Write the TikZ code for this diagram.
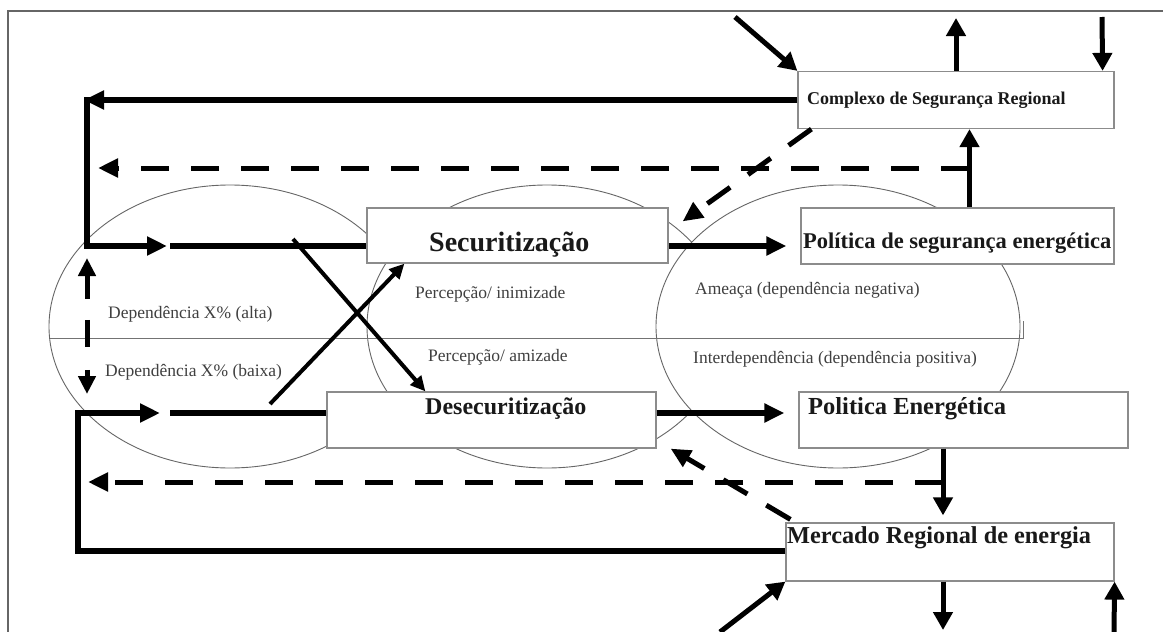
\documentclass[tikz,border=0pt]{standalone}
\usepackage{fontspec}
\setmainfont{Liberation Serif}
\usetikzlibrary{arrows.meta}

\begin{document}
\begin{tikzpicture}[x=1pt,y=-1pt]
    % Definição de estilos
    \tikzstyle{caixa}=[draw=black!45, line width=1.2pt, fill=white, inner sep=0pt]
    \tikzstyle{esfera}=[draw=black!60, line width=0.9pt, fill=white]
    \tikzstyle{rotulo}=[font=\fontsize{17.5}{19}\selectfont, text=black!75, inner sep=0pt, anchor=west]
    \tikzstyle{titulo}=[text=black!90, inner sep=0pt, anchor=west]
    \tikzstyle{fluxo}=[line width=6pt]
    \tikzstyle{seta}=[line width=6pt, -{Triangle[length=20pt,width=18pt]}]
    \tikzstyle{setafina}=[line width=5pt, -{Triangle[length=18pt,width=19pt]}]
    \tikzstyle{cruz}=[line width=4pt, -{Triangle[length=15pt,width=14pt]}]
    \tikzstyle{tracejado}=[line width=5pt, dash pattern=on 28pt off 22pt, -{Triangle[length=20pt,width=18pt]}]

    \useasboundingbox (0,0) rectangle (1163,632);

    % Moldura
    \draw[black!60, line width=1.8pt] (8,632) -- (8,11) -- (1163,11);

    % Elipses (alta/baixa, percepção, ameaça/interdependência)
    \draw[esfera] (230,326.5) ellipse [x radius=181, y radius=141.5];
    \draw[esfera] (547,326.5) ellipse [x radius=180, y radius=141.5];
    \draw[esfera] (838,326.5) ellipse [x radius=182, y radius=141.5];
    \draw[black!55, line width=1pt] (50,338) -- (1023,338) -- (1023,321);

    % Rótulos dentro das elipses
    \node[rotulo] (dep_alta) at (108,314) {Dependência X\% (alta)};
    \node[rotulo] (dep_baixa) at (105,372) {Dependência X\% (baixa)};
    \node[rotulo] (perc_inim) at (415,294) {Percepção/ inimizade};
    \node[rotulo] (perc_amiz) at (428,357) {Percepção/ amizade};
    \node[rotulo] (ameaca) at (695,290) {Ameaça (dependência negativa)};
    \node[rotulo] (interdep) at (693,359) {Interdependência (dependência positiva)};

    % Caixas
    \node[caixa, minimum width=316pt, minimum height=57pt] (csr) at (956,100) {};
    \node[caixa, minimum width=301pt, minimum height=55pt] (secur) at (517.5,235.5) {};
    \node[caixa, minimum width=313pt, minimum height=56pt] (pse) at (957.5,236) {};
    \node[caixa, minimum width=329pt, minimum height=56pt] (desec) at (491.5,420) {};
    \node[caixa, minimum width=329pt, minimum height=56pt] (pe) at (963.5,420) {};
    \node[caixa, minimum width=328pt, minimum height=58pt] (mre) at (950,552) {};

    % Textos das caixas
    \node[titulo, font=\bfseries\fontsize{18}{20}\selectfont] (csr_txt) at (807,100) {Complexo de Segurança Regional};
    \node[titulo, font=\bfseries\fontsize{28}{30}\selectfont] (secur_txt) at (429,245) {Securitização};
    \node[titulo, font=\bfseries\fontsize{22.5}{25}\selectfont] (pse_txt) at (803,243) {Política de segurança energética};
    \node[titulo, font=\bfseries\fontsize{24}{26}\selectfont] (desec_txt) at (425,409) {Desecuritização};
    \node[titulo, font=\bfseries\fontsize{24.5}{26}\selectfont] (pe_txt) at (808,409) {Politica Energética};
    \node[titulo, font=\bfseries\fontsize{24.3}{26}\selectfont] (mre_txt) at (787,538) {Mercado Regional de energia};

    % Pontos livres
    \coordinate (canto_sup) at (87,100);
    \coordinate (canto_med) at (87,246);
    \coordinate (ent_sup) at (167,246);
    \coordinate (ret_sup) at (170,246);
    \coordinate (canto_inf) at (78,413);
    \coordinate (canto_base) at (78,551);
    \coordinate (ent_inf) at (160,413);
    \coordinate (ret_inf) at (170,413);
    \coordinate (cruz_a) at (293,239);
    \coordinate (cruz_b) at (270,404);
    \coordinate (tr_sup) at (969,168);
    \coordinate (tr_sup_fim) at (98,168);
    \coordinate (tr_inf) at (943,482);
    \coordinate (tr_inf_fim) at (88,482);
    \coordinate (dep_cima) at (87,258);
    \coordinate (dep_fundo) at (87,394);
    \coordinate (ent_csr) at (735,17);
    \coordinate (sai_csr) at (956,18);
    \coordinate (ent_csr2) at (1102,17);
    \coordinate (sai_mre) at (943,630);
    \coordinate (ent_mre) at (720,632);
    \coordinate (ent_mre2) at (1114,632);

    % Laço superior (securitização)
    \draw[seta, shorten >=-3pt] (csr.west) -- (canto_sup);
    \draw[seta] ([yshift=3pt]canto_sup) -- (canto_med) -- (ent_sup);
    \draw[fluxo] (ret_sup) -- (ret_sup -| secur.west);
    \draw[seta, shorten >=14pt] (secur.east |- canto_med) -- (pse.west |- canto_med);

    % Laço inferior (desecuritização)
    \draw[seta] (mre.west |- canto_base) -- (canto_base) -- (canto_inf) -- (ent_inf);
    \draw[fluxo] (ret_inf) -- (ret_inf -| desec.west);
    \draw[seta, shorten >=14pt] (desec.east |- canto_inf) -- (pe.west |- canto_inf);

    % Cruzamento entre as percepções
    \draw[cruz] (cruz_a) -- ([xshift=99pt]desec.north west);
    \draw[cruz] (cruz_b) -- ([xshift=38pt]secur.south west);

    % Retornos tracejados
    \draw[tracejado] (tr_sup) -- (tr_sup_fim);
    \draw[tracejado] (tr_inf) -- (tr_inf_fim);
    \draw[tracejado] ([xshift=14pt]csr.south west) -- ([xshift=14pt,yshift=-14pt]secur.north east);
    \draw[tracejado] ([xshift=5pt,yshift=3pt]mre.north west) -- ([xshift=14pt]desec.south east);
    \draw[line width=5pt, dash pattern=on 24pt off 21pt on 27pt off 23pt,
          {Triangle[length=18pt,width=17pt]}-{Triangle[length=18pt,width=17pt]}] (dep_cima) -- (dep_fundo);

    % Entradas e saídas das caixas
    \draw[setafina] (ent_csr) -- (csr.north west);
    \draw[setafina] (csr.north) -- (sai_csr);
    \draw[setafina] (ent_csr2) -- ([xshift=-12pt]csr.north east);
    \draw[setafina] ([xshift=12pt]pse.north) -- ([xshift=13.5pt]csr.south);
    \draw[setafina, shorten >=7pt] ([xshift=-20.5pt]pe.south) -- ([xshift=-7pt]mre.north);
    \draw[setafina] ([xshift=-7pt]mre.south) -- (sai_mre);
    \draw[setafina] (ent_mre) -- (mre.south west);
    \draw[setafina] (ent_mre2) -- (mre.south east);
\end{tikzpicture}
\end{document}
